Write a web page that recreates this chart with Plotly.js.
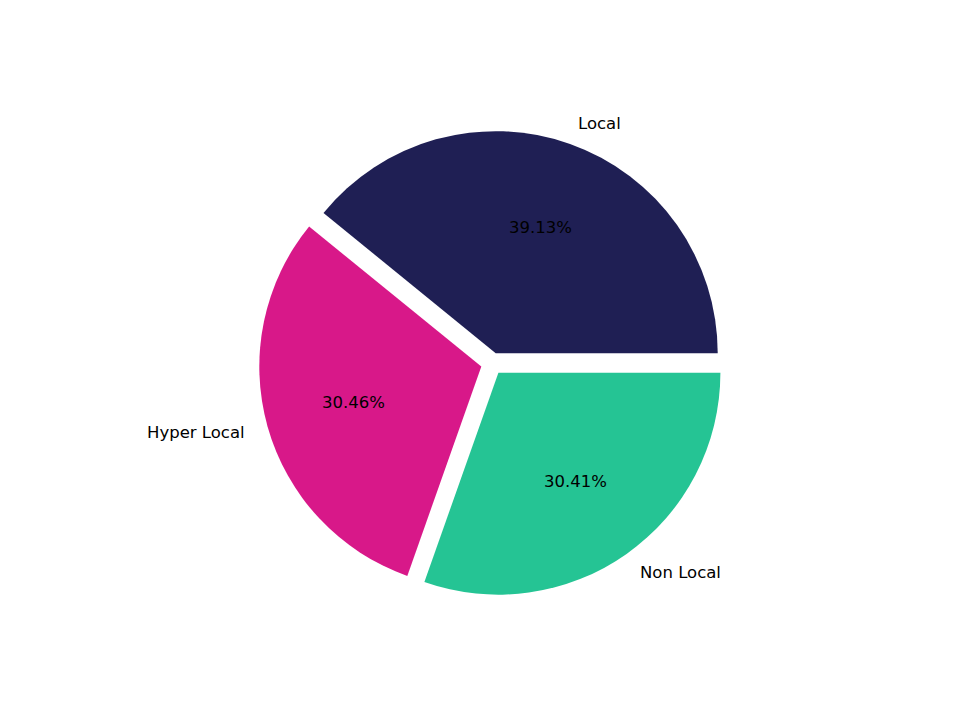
<!DOCTYPE html>
<html>
<head>
<meta charset="utf-8">
<script src="https://cdn.plot.ly/plotly-3.0.1.min.js"></script>
<style>
  body { margin: 0; background: #fff; }
  #chart { width: 960px; height: 720px; }
</style>
</head>
<body>
<div id="chart"></div>
<script>
// slice data
var labels = ['Local', 'Hyper Local', 'Non Local'];
var values = [39.13, 30.46, 30.41];
var colors = ['#1f1f54', '#d81889', '#25c494'];
var explode = [0.05, 0.05, 0.05];

// figure geometry (pixels)
var W = 960, H = 720;
var cx = 492, cy = 363.6, R = 222;
var maxPull = Math.max.apply(null, explode);
var half = R * (1 + maxPull);

var total = values.reduce((a, b) => a + b, 0);

// text like matplotlib: pct at 0.6R, labels at 1.1R from the exploded centre
var annotations = [];
var start = 0;
for (var i = 0; i < values.length; i++) {
    var frac = values[i] / total;
    var mid = (start + frac * 180) * Math.PI / 180;
    start += frac * 360;
    var c = Math.cos(mid), s = Math.sin(mid);
    var ox = cx + explode[i] * R * c, oy = cy - explode[i] * R * s;
    annotations.push({
        xref: 'paper', yref: 'paper',
        x: (ox + 0.6 * R * c) / W, y: 1 - (oy - 0.6 * R * s) / H,
        text: (frac * 100).toFixed(2) + '%',
        showarrow: false, xanchor: 'center', yanchor: 'middle', borderpad: 0,
        font: { family: 'DejaVu Sans', size: 16.5, color: '#000' }
    });
    annotations.push({
        xref: 'paper', yref: 'paper',
        x: (ox + 1.1 * R * c) / W, y: 1 - (oy - 1.1 * R * s) / H,
        text: labels[i],
        showarrow: false, xanchor: c > 0 ? 'left' : 'right', yanchor: 'middle', borderpad: 0,
        font: { family: 'DejaVu Sans', size: 16.5, color: '#000' }
    });
}

// plotly's counterclockwise pie puts the first slice clockwise of `rotation`,
// so shift by its size to make it start at 3 o'clock like matplotlib
var rot = 90 - 360 * values[0] / total;

var data = [{
    type: 'pie',
    labels: labels,
    values: values,
    marker: { colors: colors, line: { width: 0 } },
    pull: explode,
    sort: false,
    direction: 'counterclockwise',
    rotation: rot,
    textinfo: 'none',
    hoverinfo: 'label+percent',
    domain: {
        x: [(cx - half) / W, (cx + half) / W],
        y: [1 - (cy + half) / H, 1 - (cy - half) / H]
    }
}];

var layout = {
    width: W,
    height: H,
    margin: { l: 0, r: 0, t: 0, b: 0 },
    showlegend: false,
    paper_bgcolor: '#fff',
    annotations: annotations
};

Plotly.newPlot('chart', data, layout, { displayModeBar: false, staticPlot: true });
</script>
</body>
</html>
